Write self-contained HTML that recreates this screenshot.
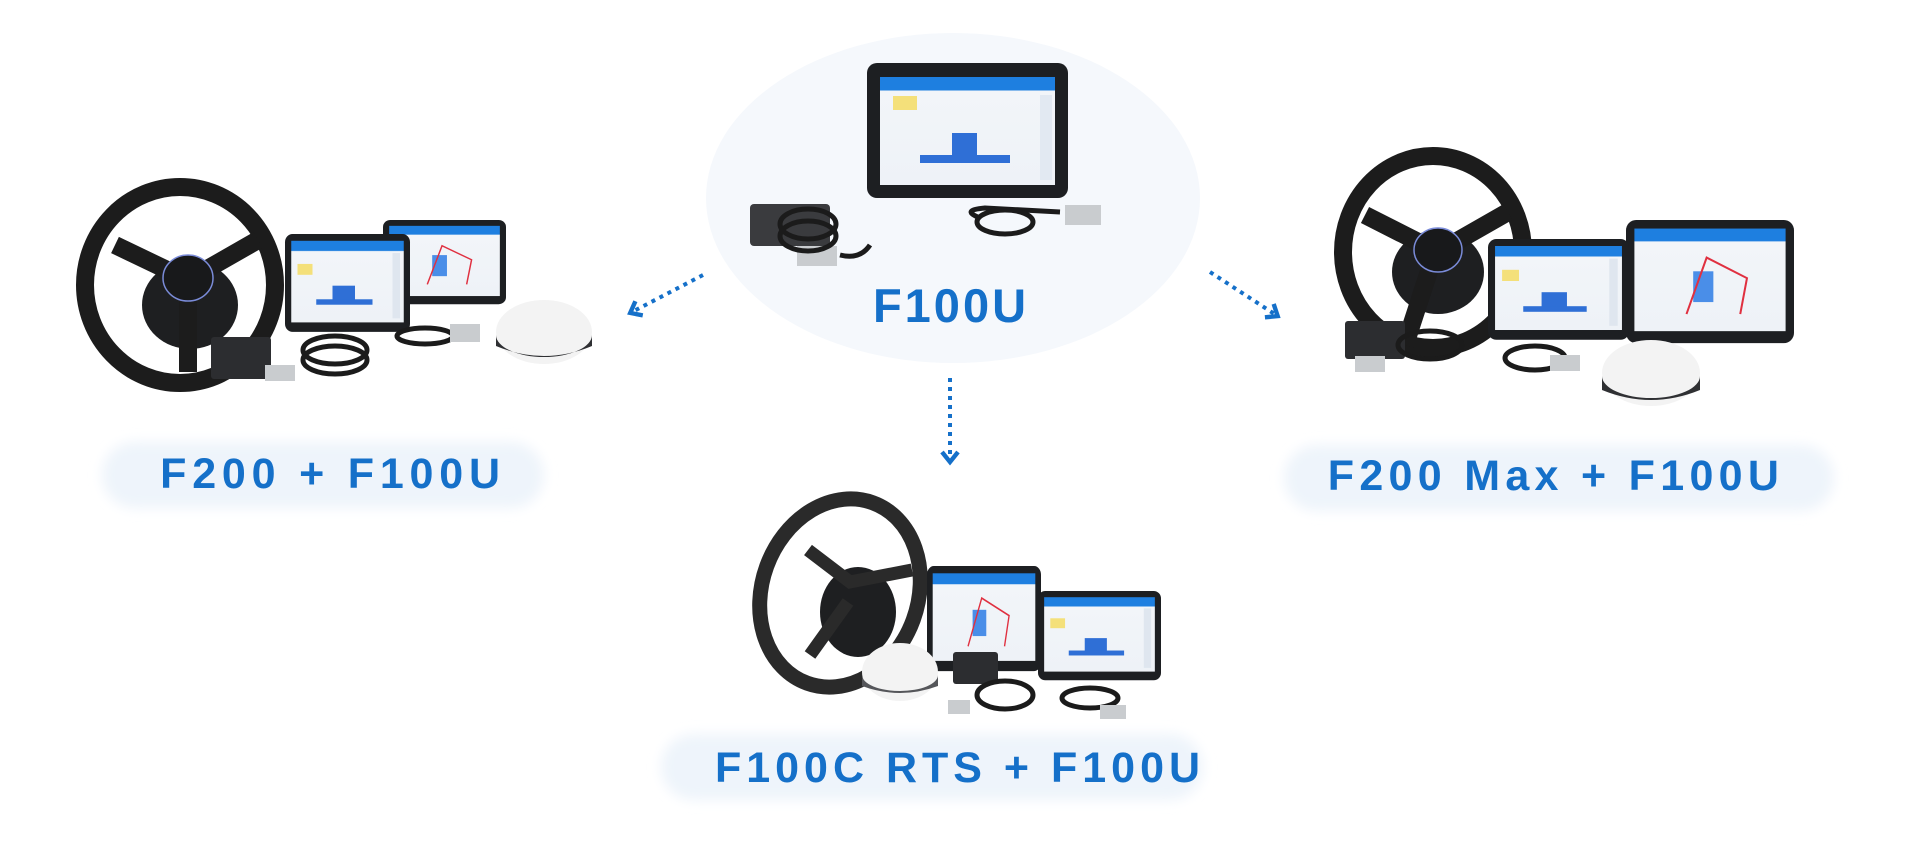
<!DOCTYPE html>
<html><head><meta charset="utf-8"><style>
html,body{margin:0;padding:0;background:#fff;}
svg{display:block}
text{font-family:"Liberation Sans",Arial,sans-serif;font-weight:bold;fill:#1570c9;}
</style></head><body>
<svg width="1920" height="848" viewBox="0 0 1920 848" xmlns="http://www.w3.org/2000/svg">
<defs>
<filter id="blur" x="-20%" y="-50%" width="140%" height="200%"><feGaussianBlur stdDeviation="6"/></filter>
<linearGradient id="scr" x1="0" y1="0" x2="0" y2="1"><stop offset="0" stop-color="#1e7fe0"/><stop offset="0.12" stop-color="#1e7fe0"/><stop offset="0.13" stop-color="#f2f5f9"/><stop offset="1" stop-color="#eef2f7"/></linearGradient>
<marker id="ah" viewBox="0 0 10 10" refX="5" refY="5" markerWidth="5" markerHeight="5" orient="auto"><path d="M1,1 L6,5 L1,9" fill="none" stroke="#1570c9" stroke-width="2.2"/></marker>
<g id="tab"><rect x="0" y="0" width="100" height="72" rx="6" fill="#1d1f22"/><rect x="5" y="5" width="90" height="60" fill="url(#scr)"/><rect x="10" y="22" width="12" height="8" fill="#f4e07a"/><rect x="38" y="38" width="18" height="12" fill="#2f6fd6"/><rect x="25" y="48" width="45" height="4" fill="#2f6fd6"/><rect x="86" y="14" width="6" height="48" fill="#dfe6ef"/></g>
<g id="tab2"><rect x="0" y="0" width="100" height="72" rx="6" fill="#1d1f22"/><rect x="5" y="5" width="90" height="60" fill="url(#scr)"/><rect x="40" y="30" width="12" height="18" fill="#4a8ee8"/><path d="M36,55 L48,22 L72,34 L68,55" fill="none" stroke="#e03040" stroke-width="1.2"/></g>
</defs>

<ellipse cx="953" cy="198" rx="247" ry="165" fill="#f5f8fc"/>
<rect x="102" y="442" width="442" height="66" rx="33" fill="#eef4fb" filter="url(#blur)"/>
<rect x="1284" y="445" width="550" height="66" rx="33" fill="#eef4fb" filter="url(#blur)"/>
<rect x="661" y="734" width="542" height="66" rx="33" fill="#eef4fb" filter="url(#blur)"/>

<!-- central product -->
<rect x="867" y="63" width="201" height="135" rx="10" fill="#1d1f22"/>
<rect x="880" y="77" width="175" height="108" fill="url(#scr)"/>
<rect x="893" y="96" width="24" height="14" fill="#f4e07a"/>
<rect x="952" y="133" width="25" height="22" fill="#2f6fd6"/>
<rect x="920" y="155" width="90" height="8" fill="#2f6fd6"/>
<rect x="1040" y="95" width="12" height="85" fill="#e2e9f2"/>
<rect x="750" y="204" width="80" height="42" rx="4" fill="#3a3b3e"/>
<rect x="797" y="246" width="40" height="20" fill="#c9cccf"/>
<ellipse cx="808" cy="224" rx="28" ry="15" fill="none" stroke="#1b1b1b" stroke-width="5"/>
<ellipse cx="808" cy="236" rx="28" ry="15" fill="none" stroke="#1b1b1b" stroke-width="5"/>
<path d="M840,255 Q860,260 870,245 M980,218 Q960,210 985,208 L1060,212" fill="none" stroke="#1b1b1b" stroke-width="5"/>
<ellipse cx="1005" cy="222" rx="28" ry="12" fill="none" stroke="#1b1b1b" stroke-width="5"/>
<rect x="1065" y="205" width="36" height="20" fill="#c9cccf"/>
<text x="951" y="322" font-size="47" text-anchor="middle" letter-spacing="3">F100U</text>

<line x1="703" y1="275" x2="632" y2="312" stroke="#1570c9" stroke-width="4" stroke-dasharray="4,5" marker-end="url(#ah)"/>
<line x1="1210" y1="272" x2="1276" y2="315" stroke="#1570c9" stroke-width="4" stroke-dasharray="4,5" marker-end="url(#ah)"/>
<line x1="950" y1="378" x2="950" y2="460" stroke="#1570c9" stroke-width="4" stroke-dasharray="4,5" marker-end="url(#ah)"/>

<!-- left product -->
<ellipse cx="180" cy="285" rx="95" ry="98" fill="none" stroke="#1c1c1c" stroke-width="18"/>
<ellipse cx="190" cy="305" rx="48" ry="44" fill="#1e1f21"/>
<path d="M115,245 L188,280 L258,240 M188,285 L188,372" stroke="#1c1c1c" stroke-width="18" fill="none"/>
<ellipse cx="188" cy="278" rx="25" ry="23" fill="#18191b" stroke="#7a8bd8" stroke-width="1.5"/>
<use href="#tab2" transform="translate(383,220) scale(1.23,1.17)"/>
<use href="#tab" transform="translate(285,234) scale(1.25,1.36)"/>
<ellipse cx="544" cy="332" rx="48" ry="32" fill="#f3f3f3"/>
<path d="M496,335 A48,22 0 0 0 592,335 L592,346 Q544,366 496,346Z" fill="#2f3033"/>
<rect x="211" y="337" width="60" height="42" rx="3" fill="#2c2d30"/>
<rect x="265" y="365" width="30" height="16" fill="#c9cccf"/>
<ellipse cx="335" cy="350" rx="32" ry="14" fill="none" stroke="#1b1b1b" stroke-width="5"/>
<ellipse cx="335" cy="360" rx="32" ry="14" fill="none" stroke="#1b1b1b" stroke-width="5"/>
<ellipse cx="425" cy="336" rx="28" ry="8" fill="none" stroke="#1b1b1b" stroke-width="5"/>
<rect x="450" y="324" width="30" height="18" fill="#c9cccf"/>
<text x="333" y="488" font-size="43" text-anchor="middle" letter-spacing="5.8">F200 + F100U</text>

<!-- right product -->
<ellipse cx="1433" cy="252" rx="90" ry="96" fill="none" stroke="#1c1c1c" stroke-width="18"/>
<ellipse cx="1438" cy="272" rx="46" ry="42" fill="#1e1f21"/>
<path d="M1365,215 L1438,252 L1508,212 M1432,262 L1405,345" stroke="#1c1c1c" stroke-width="18" fill="none"/>
<ellipse cx="1438" cy="250" rx="24" ry="22" fill="#18191b" stroke="#7a8bd8" stroke-width="1.5"/>
<use href="#tab2" transform="translate(1626,220) scale(1.68,1.71)"/>
<use href="#tab" transform="translate(1488,239) scale(1.41,1.4)"/>
<ellipse cx="1651" cy="373" rx="49" ry="33" fill="#f3f3f3"/>
<path d="M1602,376 A49,22 0 0 0 1700,376 L1700,390 Q1651,410 1602,390Z" fill="#2f3033"/>
<rect x="1345" y="321" width="60" height="38" rx="3" fill="#2c2d30"/>
<rect x="1355" y="356" width="30" height="16" fill="#c9cccf"/>
<ellipse cx="1430" cy="345" rx="32" ry="14" fill="none" stroke="#1b1b1b" stroke-width="5"/>
<ellipse cx="1535" cy="358" rx="30" ry="12" fill="none" stroke="#1b1b1b" stroke-width="5"/>
<rect x="1550" y="355" width="30" height="16" fill="#c9cccf"/>
<text x="1556" y="490" font-size="43" text-anchor="middle" letter-spacing="5.3">F200 Max + F100U</text>

<!-- bottom product -->
<ellipse cx="840" cy="593" rx="78" ry="96" transform="rotate(20 840 593)" fill="none" stroke="#2a2a2a" stroke-width="15"/>
<ellipse cx="858" cy="612" rx="38" ry="45" fill="#1e1f21"/>
<path d="M808,550 L850,582 L912,570 M848,602 L810,655" stroke="#2a2a2a" stroke-width="13" fill="none"/>
<use href="#tab2" transform="translate(927,566) scale(1.14,1.46)"/>
<use href="#tab" transform="translate(1038,591) scale(1.23,1.24)"/>
<ellipse cx="900" cy="672" rx="38" ry="29" fill="#f3f3f3"/>
<path d="M862,675 A38,16 0 0 0 938,675 L938,686 Q900,700 862,686Z" fill="#55565a"/>
<rect x="953" y="652" width="45" height="32" rx="3" fill="#2c2d30"/>
<ellipse cx="1005" cy="695" rx="28" ry="14" fill="none" stroke="#1b1b1b" stroke-width="5"/>
<rect x="948" y="700" width="22" height="14" fill="#c9cccf"/>
<ellipse cx="1090" cy="698" rx="28" ry="10" fill="none" stroke="#1b1b1b" stroke-width="5"/>
<rect x="1100" y="705" width="26" height="14" fill="#c9cccf"/>
<text x="960" y="782" font-size="43" text-anchor="middle" letter-spacing="5">F100C RTS + F100U</text>
</svg>
</body></html>
